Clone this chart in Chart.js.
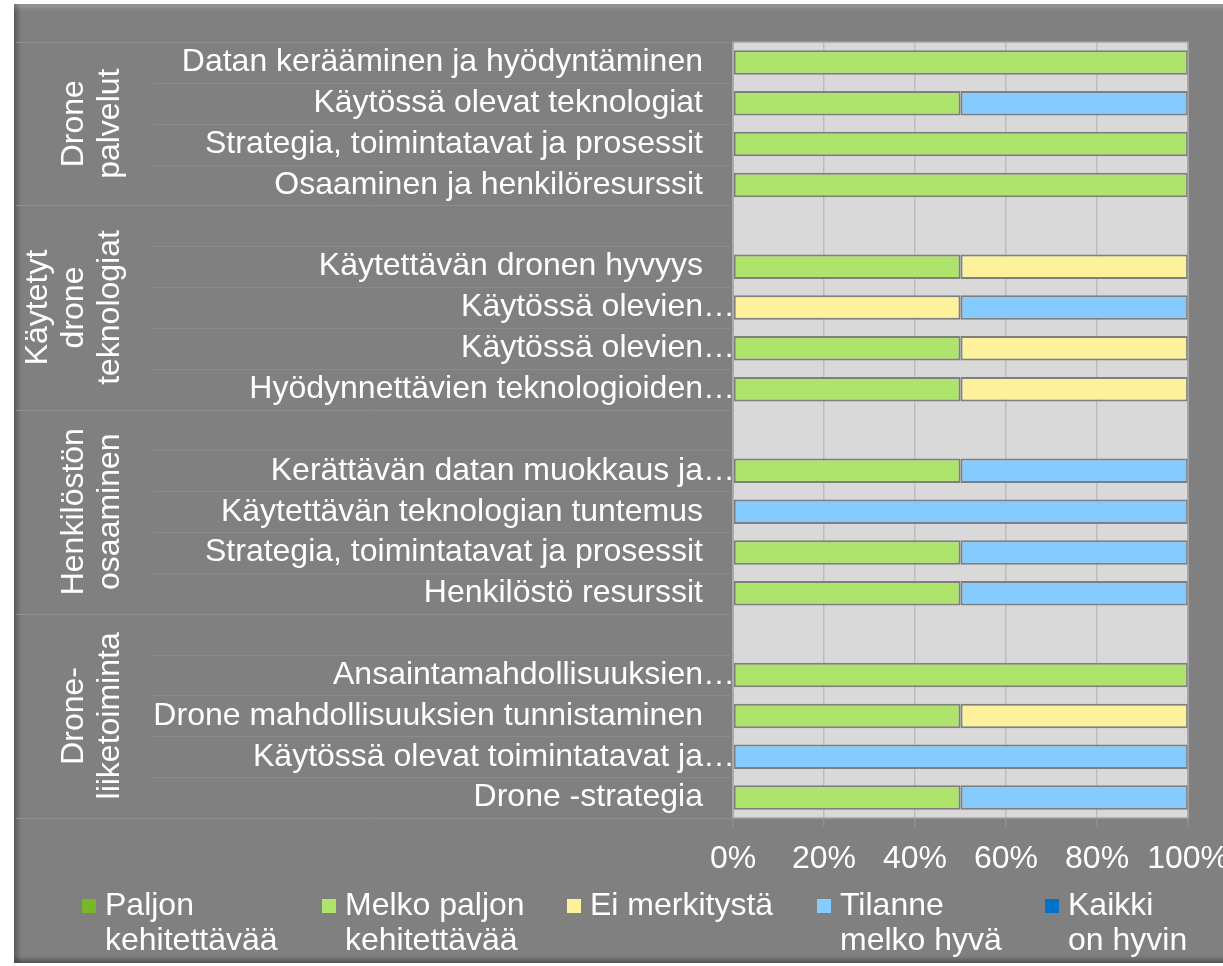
<!DOCTYPE html>
<html>
<head>
<meta charset="utf-8">
<script src="https://cdn.jsdelivr.net/npm/chart.js@4/dist/chart.umd.min.js"></script>
<style>
  html, body { margin: 0; padding: 0; width: 1223px; height: 966px; overflow: hidden; background: #fff; }
  .frame {
    position: absolute; left: 14px; top: 4px; width: 1240px; height: 959px;
    background: #808080;
    box-shadow: inset 0 5px 4px -1px rgba(255, 255, 255, 0.2),
                inset 5px 0 4px -1px rgba(0, 0, 0, 0.28),
                inset 0 -5px 4px -1px rgba(0, 0, 0, 0.28);
  }
  #chart { position: absolute; left: 0; top: 0; }
</style>
</head>
<body>
<div class="frame"></div>
<canvas id="chart" width="1242" height="966"></canvas>
<script>
// row labels, top to bottom ("" = empty spacer row between groups)
const categories = [
    "Datan kerääminen ja hyödyntäminen",
    "Käytössä olevat teknologiat",
    "Strategia, toimintatavat ja prosessit",
    "Osaaminen ja henkilöresurssit",
    "",
    "Käytettävän dronen hyvyys",
    "Käytössä olevien…",
    "Käytössä olevien…",
    "Hyödynnettävien teknologioiden…",
    "",
    "Kerättävän datan muokkaus ja…",
    "Käytettävän teknologian tuntemus",
    "Strategia, toimintatavat ja prosessit",
    "Henkilöstö resurssit",
    "",
    "Ansaintamahdollisuuksien…",
    "Drone mahdollisuuksien tunnistaminen",
    "Käytössä olevat toimintatavat ja…",
    "Drone -strategia",
]

const groupNames = [
    ["Drone", "palvelut"],
    ["Käytetyt", "drone", "teknologiat"],
    ["Henkilöstön", "osaaminen"],
    ["Drone-", "liiketoiminta"],
]
const groupSizes = [4, 5, 5, 5]

const seriesNames = [
    ["Paljon", "kehitettävää"],
    ["Melko paljon", "kehitettävää"],
    ["Ei merkitystä"],
    ["Tilanne", "melko hyvä"],
    ["Kaikki", "on hyvin"],
]
const seriesColors = ["#76b82a", "#afe46c", "#fdf19b", "#85cbff", "#0073c8"]

// percentages per row
const paljon       = [0, 0, 0, 0, null, 0, 0, 0, 0, null, 0, 0, 0, 0, null, 0, 0, 0, 0]
const melkoPaljon  = [100, 50, 100, 100, null, 50, 0, 50, 50, null, 50, 0, 50, 50, null, 100, 50, 0, 50]
const eiMerkitysta = [0, 0, 0, 0, null, 50, 50, 50, 50, null, 0, 0, 0, 0, null, 0, 50, 0, 0]
const tilanneHyva  = [0, 50, 0, 0, null, 0, 50, 0, 0, null, 50, 100, 50, 50, null, 0, 0, 100, 50]
const kaikkiHyvin  = [0, 0, 0, 0, null, 0, 0, 0, 0, null, 0, 0, 0, 0, null, 0, 0, 0, 0]

const xTicks = [0, 20, 40, 60, 80, 100]

const FONT = '"Liberation Sans", Arial, sans-serif'
const seriesData = [paljon, melkoPaljon, eiMerkitysta, tilanneHyva, kaikkiHyvin]

const plotBackground = {
    id: "plotBackground",
    beforeDraw(chart) {
        const { ctx, chartArea: a } = chart
        ctx.save()
        ctx.fillStyle = "#d9d9d9"
        ctx.fillRect(a.left, a.top, a.right - a.left, a.bottom - a.top)
        ctx.restore()
    },
    afterDatasetsDraw(chart) {
        const { ctx, chartArea: a } = chart
        ctx.save()
        ctx.strokeStyle = "#a3a3a3"
        ctx.lineWidth = 1.5
        ctx.strokeRect(a.left, a.top, a.right - a.left, a.bottom - a.top)
        ctx.restore()
    },
}

// group captions + row separators in the label area
const groupLabels = {
    id: "groupLabels",
    afterDraw(chart) {
        const { ctx, chartArea: a } = chart
        const y = chart.scales.y
        const rowH = (a.bottom - a.top) / categories.length
        ctx.save()
        ctx.lineWidth = 1
        for (let i = 0; i <= categories.length; i++) {
            const py = Math.round(y.getPixelForValue(i) - rowH / 2) + 0.5
            ctx.strokeStyle = "#8a8a8a"
            ctx.beginPath()
            ctx.moveTo(153, py)
            ctx.lineTo(a.left, py)
            ctx.stroke()
        }
        let start = 0
        const bounds = [0]
        groupSizes.forEach((n) => { start += n; bounds.push(start) })
        bounds.forEach((b) => {
            const py = Math.round(y.getPixelForValue(b) - rowH / 2) + 0.5
            ctx.strokeStyle = "#8d8d8d"
            ctx.beginPath()
            ctx.moveTo(16, py)
            ctx.lineTo(a.left, py)
            ctx.stroke()
        })

        ctx.fillStyle = "#ffffff"
        ctx.font = "32px " + FONT
        ctx.textAlign = "center"
        ctx.textBaseline = "alphabetic"
        groupNames.forEach((lines, g) => {
            const top = y.getPixelForValue(bounds[g]) - rowH / 2
            const bottom = y.getPixelForValue(bounds[g + 1]) - rowH / 2
            const cy = (top + bottom) / 2
            lines.forEach((line, j) => {
                const bx = 119 - (lines.length - 1 - j) * 36
                ctx.save()
                ctx.translate(bx, cy)
                ctx.rotate(-Math.PI / 2)
                ctx.fillText(line, 0, 0)
                ctx.restore()
            })
        })
        ctx.restore()
    },
}

// legend with wrapped labels, drawn below the axis
const bottomLegend = {
    id: "bottomLegend",
    afterDraw(chart) {
        const { ctx } = chart
        const itemX = [82, 322, 567, 817, 1045]
        ctx.save()
        ctx.font = "32px " + FONT
        ctx.textAlign = "left"
        ctx.textBaseline = "alphabetic"
        chart.data.datasets.forEach((ds, i) => {
            const x = itemX[i]
            ctx.fillStyle = ds.backgroundColor
            ctx.fillRect(x, 899, 14, 14)
            ctx.fillStyle = "#ffffff"
            seriesNames[i].forEach((line, j) => {
                ctx.fillText(line, x + 23, 915 + j * 35)
            })
        })
        ctx.restore()
    },
}

const chart = new Chart(document.getElementById("chart"), {
    type: "bar",
    data: {
        labels: categories,
        datasets: seriesData.map((data, i) => ({
            label: seriesNames[i].join(" "),
            data,
            backgroundColor: seriesColors[i],
            borderColor: "#7f7f7f",
            borderWidth: 2,
            borderSkipped: false,
            barPercentage: 0.6,
            categoryPercentage: 1,
        })),
    },
    options: {
        indexAxis: "y",
        responsive: false,
        animation: false,
        layout: {
            padding: { top: 42, bottom: 92, left: 100, right: 40 },
        },
        plugins: {
            legend: { display: false },
            tooltip: { enabled: false },
        },
        scales: {
            x: {
                stacked: true,
                min: 0,
                max: 100,
                afterBuildTicks: (scale) => {
                    scale.ticks = xTicks.map((v) => ({ value: v }))
                },
                afterFit: (scale) => {
                    scale.height = 56
                },
                border: { display: false },
                grid: {
                    color: "#bdbdbd",
                    lineWidth: 1.5,
                    drawTicks: true,
                    tickLength: 9,
                    tickColor: "#8e8e8e",
                },
                ticks: {
                    color: "#ffffff",
                    font: { size: 32, family: FONT },
                    padding: 13,
                    maxRotation: 0,
                    callback: (v) => v + "%",
                },
            },
            y: {
                stacked: true,
                afterFit: (scale) => {
                    scale.width = 633
                },
                border: { display: false },
                grid: { display: false },
                ticks: {
                    color: "#ffffff",
                    font: { size: 32, family: FONT },
                    padding: -10,
                    autoSkip: false,
                    callback: (v, i) => {
                        const label = categories[i]
                        return label === "" || label.endsWith("…") ? label : label + "\u2003"
                    },
                },
            },
        },
    },
    plugins: [plotBackground, groupLabels, bottomLegend],
})
</script>
</body>
</html>
